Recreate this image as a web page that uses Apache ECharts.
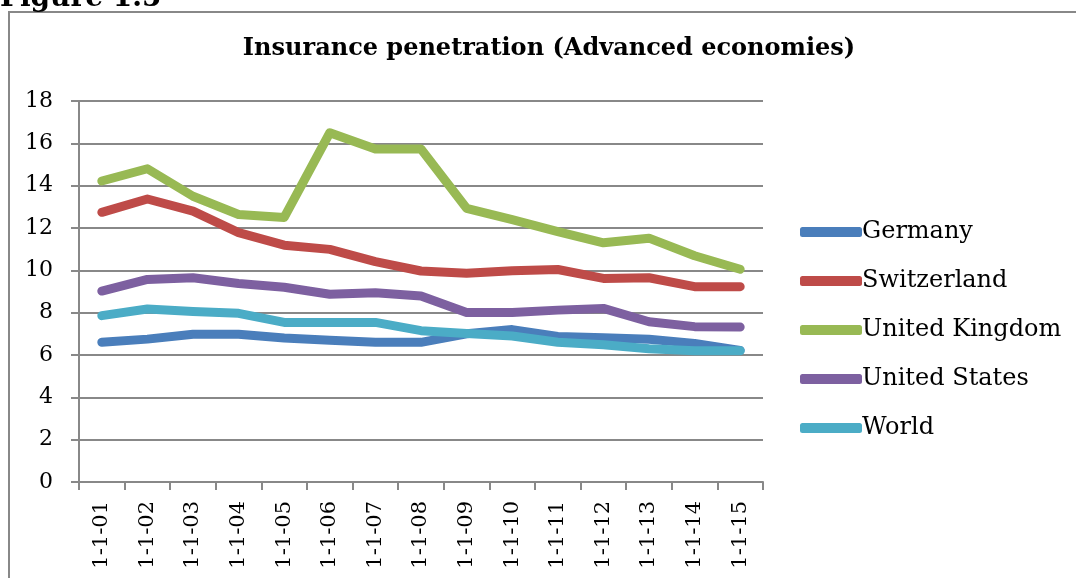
<!DOCTYPE html>
<html>
<head>
<meta charset="utf-8">
<script src="https://cdn.jsdelivr.net/npm/echarts@6/dist/echarts.min.js"></script>
<style>
  html, body { margin: 0; padding: 0; background: #fff; }
  #main { width: 1076px; height: 578px; }
</style>
</head>
<body>
<div id="main"></div>
<script>
// === data ===
const categories = ["1-1-01", "1-1-02", "1-1-03", "1-1-04", "1-1-05", "1-1-06", "1-1-07", "1-1-08",
    "1-1-09", "1-1-10", "1-1-11", "1-1-12", "1-1-13", "1-1-14", "1-1-15"];
const germany = [6.6, 6.75, 6.98, 6.98, 6.8, 6.7, 6.6, 6.6, 7.0, 7.2, 6.88, 6.82, 6.74, 6.55, 6.22];
const switzerland = [12.74, 13.37, 12.8, 11.78, 11.19, 10.99, 10.41, 9.97, 9.86, 9.98, 10.04, 9.62, 9.65, 9.23, 9.23];
const unitedKingdom = [14.22, 14.8, 13.5, 12.64, 12.5, 16.5, 15.73, 15.73, 12.93, 12.4, 11.83, 11.3, 11.52, 10.69, 10.05];
const unitedStates = [9.02, 9.57, 9.65, 9.38, 9.2, 8.87, 8.94, 8.79, 8.01, 8.01, 8.12, 8.2, 7.57, 7.34, 7.32];
const world = [7.86, 8.17, 8.05, 7.97, 7.54, 7.54, 7.54, 7.15, 7.02, 6.9, 6.6, 6.48, 6.3, 6.2, 6.2];

const FONT = "DejaVu Serif";
const AXIS_GRAY = "#888888";

const chart = echarts.init(document.getElementById("main"));

function lineSeries(name, data, color) {
    return {
        name: name,
        type: "line",
        data: data,
        symbol: "none",
        color: color,
        lineStyle: { color: color, width: 9, cap: "round", join: "round" },
        animation: false
    };
}

const option = {
    backgroundColor: "#fff",
    animation: false,
    title: {
        text: "Insurance penetration (Advanced economies)",
        left: 549,
        top: 37,
        padding: 0,
        textAlign: "center",
        textStyle: { fontFamily: FONT, fontWeight: "bold", fontSize: 24, color: "#000" }
    },
    graphic: [
        {
            type: "rect",
            shape: { x: 9, y: 12, width: 1100, height: 600 },
            style: { fill: "none", stroke: AXIS_GRAY, lineWidth: 2 },
            silent: true
        },
        {
            // caption of the page above, mostly cut off
            type: "text",
            x: 0,
            y: -15,
            style: {
                text: "Figure 1.5",
                font: "bold 28px 'DejaVu Serif'",
                fill: "#000"
            },
            silent: true
        }
    ],
    legend: {
        orient: "vertical",
        left: 800,
        top: 220,
        padding: 0,
        itemWidth: 62,
        itemHeight: 10,
        itemGap: 25,
        icon: "roundRect",
        textStyle: { fontFamily: FONT, fontSize: 24, color: "#000", padding: [0, 0, 0, -5] },
        data: ["Germany", "Switzerland", "United Kingdom", "United States", "World"]
    },
    grid: { left: 79, right: 313, top: 101, bottom: 96 },
    xAxis: {
        type: "category",
        data: categories,
        boundaryGap: true,
        axisLine: { lineStyle: { color: AXIS_GRAY, width: 2 } },
        axisTick: { show: true, length: 8, lineStyle: { color: AXIS_GRAY, width: 2 } },
        axisLabel: {
            rotate: 90,
            color: "#000",
            fontFamily: FONT,
            fontSize: 21,
            margin: 19,
            interval: 0
        }
    },
    yAxis: {
        type: "value",
        min: 0,
        max: 18,
        interval: 2,
        axisLine: { show: true, lineStyle: { color: AXIS_GRAY, width: 2 } },
        axisTick: { show: true, length: 8, lineStyle: { color: AXIS_GRAY, width: 2 } },
        axisLabel: { color: "#000", fontFamily: FONT, fontSize: 22, margin: 26 },
        splitLine: { lineStyle: { color: AXIS_GRAY, width: 2 } }
    },
    series: [
        lineSeries("Germany", germany, "#4a7ebb"),
        lineSeries("Switzerland", switzerland, "#be4b48"),
        lineSeries("United Kingdom", unitedKingdom, "#98b954"),
        lineSeries("United States", unitedStates, "#7d60a0"),
        lineSeries("World", world, "#4bacc6")
    ]
};

chart.setOption(option);
</script>
</body>
</html>
